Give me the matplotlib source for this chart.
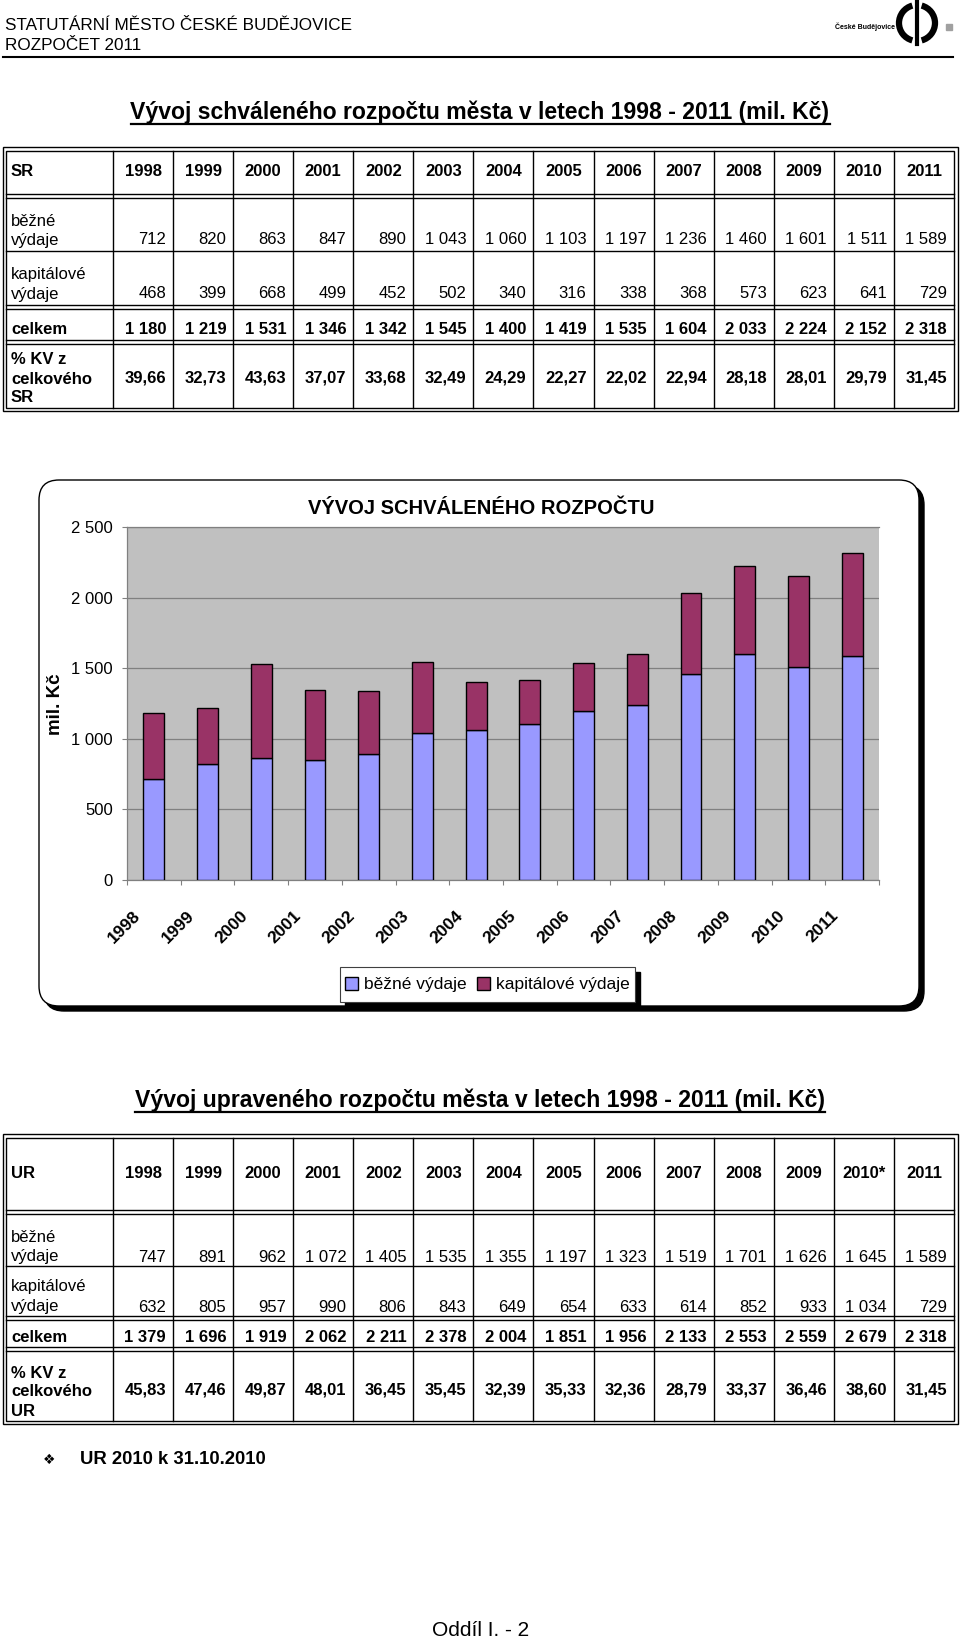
import matplotlib
matplotlib.use('Agg')
import matplotlib.pyplot as plt
from matplotlib.patches import FancyBboxPatch, Rectangle, Arc
import numpy as np

plt.rcParams['font.family'] = ['Liberation Sans', 'DejaVu Sans']

# ---------------- data ----------------
years = ['1998', '1999', '2000', '2001', '2002', '2003', '2004',
         '2005', '2006', '2007', '2008', '2009', '2010', '2011']
ur_years = ['1998', '1999', '2000', '2001', '2002', '2003', '2004',
            '2005', '2006', '2007', '2008', '2009', '2010*', '2011']

sr_bezne = [712, 820, 863, 847, 890, 1043, 1060, 1103, 1197, 1236, 1460, 1601, 1511, 1589]
sr_kapital = [468, 399, 668, 499, 452, 502, 340, 316, 338, 368, 573, 623, 641, 729]
sr_celkem = [1180, 1219, 1531, 1346, 1342, 1545, 1400, 1419, 1535, 1604, 2033, 2224, 2152, 2318]
sr_pct = [39.66, 32.73, 43.63, 37.07, 33.68, 32.49, 24.29, 22.27, 22.02, 22.94, 28.18, 28.01, 29.79, 31.45]

ur_bezne = [747, 891, 962, 1072, 1405, 1535, 1355, 1197, 1323, 1519, 1701, 1626, 1645, 1589]
ur_kapital = [632, 805, 957, 990, 806, 843, 649, 654, 633, 614, 852, 933, 1034, 729]
ur_celkem = [1379, 1696, 1919, 2062, 2211, 2378, 2004, 1851, 1956, 2133, 2553, 2559, 2679, 2318]
ur_pct = [45.83, 47.46, 49.87, 48.01, 36.45, 35.45, 32.39, 35.33, 32.36, 28.79, 33.37, 36.46, 38.60, 31.45]

yticks = [0, 500, 1000, 1500, 2000, 2500]
legend_labels = ['běžné výdaje', 'kapitálové výdaje']


def fmt_int(v):
    return f"{v:,}".replace(',', ' ')


def fmt_pct(v):
    return f"{v:.2f}".replace('.', ',')


W, H = 960, 1641
fig = plt.figure(figsize=(W / 100, H / 100), dpi=100)
pax = fig.add_axes([0, 0, 1, 1])
pax.set_xlim(0, W)
pax.set_ylim(H, 0)
pax.axis('off')
pax.set_zorder(1)

FS = 12
LW = 1.0

# ---------------- page header ----------------
pax.text(5, 26, 'STATUTÁRNÍ MĚSTO ČESKÉ BUDĚJOVICE', fontsize=12.3, va='center', ha='left')
pax.text(5, 46, 'ROZPOČET 2011', fontsize=12.3, va='center', ha='left')
pax.plot([3, 953], [57, 57], color='black', lw=1.5)
# logo
pax.text(895, 27, 'České Budějovice', fontsize=5, fontweight='bold', ha='right', va='center')
pax.add_patch(Arc((917, 23), 36, 36, theta1=105, theta2=255, lw=4.5, color='black'))
pax.add_patch(Arc((917, 23), 36, 36, theta1=-75, theta2=75, lw=4.5, color='black'))
pax.plot([917, 917], [1, 44], color='black', lw=3)
pax.add_patch(Rectangle((946, 24), 6, 6, color='#a0a0a0'))


def underlined_title(text, x, y_base, y_line):
    t = pax.text(x, y_base, text, fontsize=16.6, fontweight='bold', ha='center', va='baseline')
    fig.canvas.draw()
    bb = t.get_window_extent(renderer=fig.canvas.get_renderer())
    inv = pax.transData.inverted()
    (x0, _), (x1, _) = inv.transform([[bb.x0, bb.y0], [bb.x1, bb.y1]])
    pax.plot([x0, x1], [y_line, y_line], color='black', lw=1.6)


underlined_title('Vývoj schváleného rozpočtu města v letech 1998 - 2011 (mil. Kč)', 480, 119, 124)

# ---------------- tables ----------------
col_x0 = 113.0
col_w = 60.07


def draw_table(top, bottom, dbl, single, header_y, head_label, head_years,
               bez_y, kap_y, cel_y, pct_y, bez, kap, cel, pct, pct_label):
    L, R = 2.5, 957.5
    for off in (0, 3.5):
        pax.add_patch(Rectangle((L + off, top + off), R - L - 2 * off, bottom - top - 2 * off,
                                fill=False, lw=LW, ec='black'))
    for y in dbl:
        for dy in (-1.8, 1.8):
            pax.plot([L + 3.5, R - 3.5], [y + dy, y + dy], color='black', lw=LW)
    pax.plot([L + 3.5, R - 3.5], [single, single], color='black', lw=LW)
    for k in range(14):
        xk = col_x0 + col_w * k
        pax.plot([xk, xk], [top + 3.5, bottom - 3.5], color='black', lw=LW)
    # header
    pax.text(11, header_y, head_label, fontsize=FS, fontweight='bold', va='center')
    for k, yr in enumerate(head_years):
        pax.text(col_x0 + col_w * (k + 0.5), header_y, yr, fontsize=FS, fontweight='bold',
                 ha='center', va='center')
    # běžné
    pax.text(11, bez_y[0], 'běžné', fontsize=FS, va='center')
    pax.text(11, bez_y[1], 'výdaje', fontsize=FS, va='center')
    for k, v in enumerate(bez):
        pax.text(col_x0 + col_w * (k + 1) - 7, bez_y[1], fmt_int(v), fontsize=FS, ha='right', va='center')
    # kapitálové
    pax.text(11, kap_y[0], 'kapitálové', fontsize=FS, va='center')
    pax.text(11, kap_y[1], 'výdaje', fontsize=FS, va='center')
    for k, v in enumerate(kap):
        pax.text(col_x0 + col_w * (k + 1) - 7, kap_y[1], fmt_int(v), fontsize=FS, ha='right', va='center')
    # celkem
    pax.text(11, cel_y, 'celkem', fontsize=FS, fontweight='bold', va='center')
    for k, v in enumerate(cel):
        pax.text(col_x0 + col_w * (k + 1) - 7, cel_y, fmt_int(v), fontsize=FS, fontweight='bold',
                 ha='right', va='center')
    # % KV
    for txt, yy in zip(['% KV z', 'celkového', pct_label], pct_y[:3]):
        pax.text(11, yy, txt, fontsize=FS, fontweight='bold', va='center')
    for k, v in enumerate(pct):
        pax.text(col_x0 + col_w * (k + 1) - 7, pct_y[3], fmt_pct(v), fontsize=FS, fontweight='bold',
                 ha='right', va='center')


draw_table(147, 411, [196, 307, 342], 251, 171, 'SR', years,
           (222, 240), (275, 294), 329, (359, 379, 398, 378),
           sr_bezne, sr_kapital, sr_celkem, sr_pct, 'SR')

draw_table(1134, 1424, [1212, 1318, 1349], 1266, 1173, 'UR', ur_years,
           (1237, 1257), (1287, 1307), 1337, (1373, 1392, 1412, 1390),
           ur_bezne, ur_kapital, ur_celkem, ur_pct, 'UR')

# ---------------- chart box ----------------
bx0, by0, bx1, by1 = 39, 480, 919, 1006
pax.add_patch(FancyBboxPatch((bx0 + 5, by0 + 5), bx1 - bx0, by1 - by0,
                             boxstyle='round,pad=0,rounding_size=20', fc='black', ec='black', lw=1))
pax.add_patch(FancyBboxPatch((bx0, by0), bx1 - bx0, by1 - by0,
                             boxstyle='round,pad=0,rounding_size=20', fc='white', ec='black', lw=1))
pax.text(481, 509, 'VÝVOJ SCHVÁLENÉHO ROZPOČTU', fontsize=14.5, fontweight='bold',
         ha='center', va='center')
pax.text(56, 704, 'mil. Kč', fontsize=13.5, fontweight='bold', rotation=90, ha='center', va='center')

# legend frame
lx0, ly0, lx1, ly1 = 340, 967, 635, 1002
pax.add_patch(Rectangle((lx0 + 5, ly0 + 5), lx1 - lx0, ly1 - ly0, fc='black', ec='black'))
pax.add_patch(Rectangle((lx0, ly0), lx1 - lx0, ly1 - ly0, fc='white', ec='#404040', lw=0.8))

# ---------------- bar chart ----------------
pl, pr, pt, pb = 127, 879, 527, 880
ax = fig.add_axes([pl / W, 1 - pb / H, (pr - pl) / W, (pb - pt) / H])
ax.set_zorder(2)
ax.set_facecolor('#C0C0C0')
x = np.arange(len(years))
b1 = ax.bar(x, sr_bezne, width=0.39, color='#9999FF', edgecolor='black', lw=1,
            label=legend_labels[0], zorder=3)
b2 = ax.bar(x, sr_kapital, bottom=sr_bezne, width=0.39, color='#993366', edgecolor='black', lw=1,
            label=legend_labels[1], zorder=3)
ax.set_xlim(-0.5, len(years) - 0.5)
ax.set_ylim(0, 2500)
ax.set_yticks(yticks)
ax.set_yticklabels([fmt_int(v) for v in yticks], fontsize=12)
ax.yaxis.grid(True, color='#808080', lw=0.9)
ax.set_axisbelow(True)
ax.set_xticks(np.arange(-0.5, len(years), 1))
ax.set_xticklabels([])
ax.tick_params(axis='x', length=3.6, direction='out', color='#808080', width=0.8)
ax.tick_params(axis='y', length=3.6, direction='out', color='#808080', width=0.8, pad=6.5)
ax.spines['right'].set_visible(False)
for s in ['left', 'bottom', 'top']:
    ax.spines[s].set_color('#808080')
    ax.spines[s].set_linewidth(0.9)
for i, yr in enumerate(years):
    ax.text(i - 0.2, -0.079, yr, rotation=45, ha='right', va='top', fontsize=12.5,
            fontweight='bold', transform=ax.get_xaxis_transform())

fig.legend(handles=[b1, b2], labels=legend_labels, loc='center',
           bbox_to_anchor=((lx0 + lx1) / 2 / W, 1 - (ly0 + ly1) / 2 / H),
           ncol=2, frameon=False, fontsize=12.5, handlelength=0.75, handleheight=0.75,
           handletextpad=0.35, columnspacing=0.6, borderpad=0.2)

# ---------------- second title & footnote ----------------
underlined_title('Vývoj upraveného rozpočtu města v letech 1998 - 2011 (mil. Kč)', 480, 1107, 1112)

pax.text(49, 1460, '❖', fontsize=10, ha='center', va='center', family=['DejaVu Sans'])
pax.text(80, 1460, 'UR 2010 k 31.10.2010', fontsize=13.3, fontweight='bold', ha='left', va='center')
pax.text(481, 1630, 'Oddíl I. - 2', fontsize=15, ha='center', va='center')

fig.savefig('out.png', dpi=100)
